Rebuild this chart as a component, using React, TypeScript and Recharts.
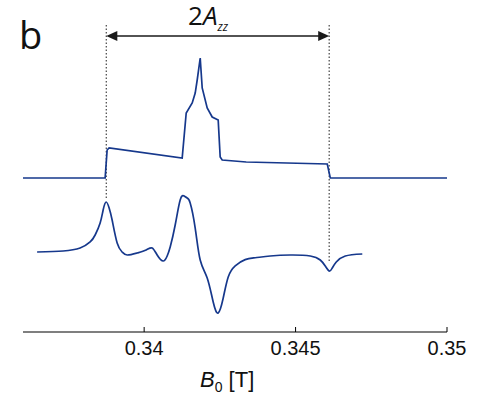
import React from 'react';
import { LineChart, Line, XAxis, YAxis, ReferenceLine } from 'recharts';

// Field values [T]
const absorptionField = [
  0.336, 0.338712, 0.338778, 0.338844, 0.341256, 0.341389, 0.341587, 0.341686, 0.341752,
  0.341851, 0.341917, 0.342082, 0.342247, 0.342445, 0.342511, 0.342577, 0.34337, 0.346047,
  0.346146, 0.35,
];
// Absorption spectrum (offset, arbitrary units)
const absorptionSignal = [
  4.936, 4.936, 5.833, 5.897, 5.577, 7.019, 7.34, 7.66, 8.077,
  8.782, 7.821, 7.179, 6.891, 6.795, 5.609, 5.513, 5.449, 5.385,
  4.936, 4.936,
];

const derivativeField = [
  0.336466, 0.337325, 0.337886, 0.338217, 0.338382, 0.338547, 0.338646, 0.338745, 0.338844,
  0.338943, 0.339109, 0.339274, 0.339439, 0.339769, 0.340067, 0.340265, 0.34043, 0.340628,
  0.34076, 0.34086, 0.341025, 0.34119, 0.341322, 0.341421, 0.34152, 0.341686, 0.341851,
  0.342082, 0.34228, 0.342445, 0.342611, 0.342776, 0.343007, 0.343337, 0.343668, 0.344163,
  0.344824, 0.345485, 0.345815, 0.34598, 0.346112, 0.346211, 0.346344, 0.346641, 0.347203,
];
// First-derivative spectrum (offset, arbitrary units)
const derivativeSignal = [
  2.564, 2.596, 2.692, 2.885, 3.109, 3.494, 3.91, 4.167, 3.974,
  3.59, 2.853, 2.564, 2.468, 2.532, 2.628, 2.692, 2.468, 2.276,
  2.436, 2.724, 3.429, 4.231, 4.359, 4.295, 4.135, 3.333, 2.308,
  1.731, 0.962, 0.609, 1.09, 1.763, 2.12, 2.32, 2.38, 2.436,
  2.468, 2.436, 2.308, 2.115, 1.955, 2.051, 2.244, 2.436, 2.5,
];

const xTicks = [0.34, 0.345, 0.35];
const xDomain = [0.336, 0.35];
const yDomain = [0, 10];

// 2A_zz markers
const markerFields = [0.33875, 0.34611];
const markerTop = 9.84;
const markerBottoms = [4.29, 2.21];
const arrowLevel = 9.49;

const absorptionData = absorptionField.map((b, i) => ({ b, v: absorptionSignal[i] }));
const derivativeData = derivativeField.map((b, i) => ({ b, v: derivativeSignal[i] }));

const LINE_COLOR = '#16388c';

const Tick = (props: any) => {
  const { x, y, payload } = props;
  return (
    <g>
      <line x1={x} x2={x} y1={y} y2={y - 5} stroke="#000" strokeWidth={1} />
      <text
        x={x}
        y={y + 23}
        textAnchor="middle"
        fontFamily="'Liberation Sans', Arial, sans-serif"
        fontSize={20}
        fill="#111"
      >
        {payload.value}
      </text>
    </g>
  );
};

const AxisLabel = (props: any) => {
  const vb = props.viewBox || { x: 0, y: 0, width: 0, height: 0 };
  return (
    <text
      x={vb.x + vb.width / 2 - 35}
      y={387}
      fontFamily="'Liberation Sans', Arial, sans-serif"
      fontSize={22}
      fill="#111"
    >
      <tspan fontStyle="italic">B</tspan>
      <tspan fontSize={14} dy={5}>0</tspan>
      <tspan dy={-5}> [T]</tspan>
    </text>
  );
};

const ArrowShape = (props: any) => {
  const { x1, y1, x2, y2 } = props;
  const L = 11;
  const W = 5;
  return (
    <g>
      <line x1={x1 + 4} y1={y1} x2={x2 - 4} y2={y2} stroke="#1a1a1a" strokeWidth={1.5} />
      <polygon points={`${x1},${y1} ${x1 + L},${y1 - W} ${x1 + L},${y1 + W}`} fill="#1a1a1a" />
      <polygon points={`${x2},${y2} ${x2 - L},${y2 - W} ${x2 - L},${y2 + W}`} fill="#1a1a1a" />
    </g>
  );
};

export default function App() {
  return (
    <div style={{ position: 'absolute', left: 0, top: 0, width: 500, height: 395, background: '#fff' }}>
      <svg
        width={500}
        height={60}
        style={{ position: 'absolute', left: 0, top: 0, overflow: 'visible' }}
      >
        <text x={19} y={49} fontFamily="'Open Sans', sans-serif" fontSize={38} fill="#111">
          b
        </text>
        <text x={188} y={25} fontFamily="'Open Sans', sans-serif" fontSize={26} fill="#111">
          2<tspan fontStyle="italic">A</tspan>
          <tspan fontStyle="italic" fontSize={12} dy={6}>zz</tspan>
        </text>
      </svg>
      <LineChart width={500} height={395} margin={{ top: 20, right: 53, bottom: 33, left: 23 }}>
        <XAxis
          dataKey="b"
          type="number"
          domain={xDomain}
          ticks={xTicks}
          allowDataOverflow
          height={30}
          tickSize={0}
          tickMargin={0}
          tick={<Tick />}
          axisLine={{ stroke: '#000', strokeWidth: 1.2 }}
          tickLine={false}
          label={<AxisLabel />}
        />
        <YAxis type="number" domain={yDomain} hide />
        {markerFields.map((f, i) => (
          <ReferenceLine
            key={f}
            segment={[
              { x: f, y: markerTop },
              { x: f, y: markerBottoms[i] },
            ]}
            stroke="#444"
            strokeWidth={1.2}
            strokeDasharray="1.5 2"
          />
        ))}
        <ReferenceLine
          segment={[
            { x: markerFields[0], y: arrowLevel },
            { x: markerFields[1], y: arrowLevel },
          ]}
          shape={<ArrowShape />}
        />
        <Line
          data={absorptionData}
          dataKey="v"
          type="linear"
          stroke={LINE_COLOR}
          strokeWidth={1.7}
          dot={false}
          isAnimationActive={false}
        />
        <Line
          data={derivativeData}
          dataKey="v"
          type="natural"
          stroke={LINE_COLOR}
          strokeWidth={1.7}
          dot={false}
          isAnimationActive={false}
        />
      </LineChart>
    </div>
  );
}
